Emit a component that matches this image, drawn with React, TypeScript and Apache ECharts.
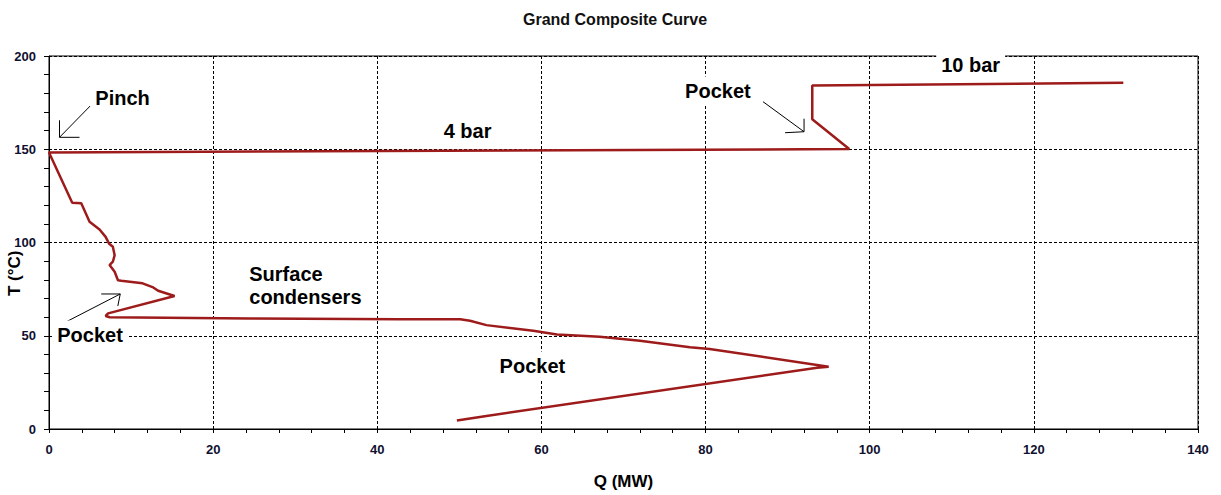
import React, { useEffect, useRef } from "react";
import * as echarts from "echarts";

// Grand composite curve: heat flow Q (MW) vs shifted temperature T (°C)
const qValues = [130.9, 93.0, 93.0, 97.5, 0.0, 2.83, 3.93, 4.94, 6.16, 6.9, 7.3, 7.78, 8.0, 7.78, 7.38, 8.0, 8.4, 8.8, 11.4, 12.7, 13.3, 15.3, 7.2, 6.9, 7.4, 24.5, 42.7, 50.1, 51.3, 53.3, 59.0, 61.9, 67.1, 72.0, 78.1, 80.5, 95.0, 93.6, 53.3, 49.7];
const tValues = [185.6, 184.2, 166.1, 150.1, 148.3, 121.3, 121.0, 111.1, 107.0, 103.0, 99.5, 97.7, 93.2, 89.7, 87.9, 84.3, 79.8, 79.5, 78.1, 75.9, 74.1, 71.3, 62.0, 60.6, 59.9, 59.2, 58.8, 58.8, 58.0, 55.7, 52.7, 50.7, 49.5, 47.3, 43.8, 42.9, 33.4, 32.9, 7.0, 4.5];

const xTicks = [0, 20, 40, 60, 80, 100, 120, 140];
const yTicks = [0, 50, 100, 150, 200];

const titleText = "Grand Composite Curve";
const xName = "Q (MW)";
const yName = "T (°C)";

// annotation texts with anchor positions in data space [Q, T]
const labelTexts = ["Pinch", "4 bar", "10 bar", "Pocket", "Pocket", "Pocket", "Surface\ncondensers"];
const labelAnchors: number[][] = [
  [8.96, 177.5],
  [51.0, 159.8],
  [112.3, 195.2],
  [81.5, 181.2],
  [5.0, 50.4],
  [58.9, 33.8],
  [24.4, 76.7],
];

// annotation arrows: from -> to in data space
const arrowFrom: number[][] = [
  [5.02, 173.2],
  [87.0, 175.5],
  [1.89, 57.0],
];
const arrowTo: number[][] = [
  [1.28, 156.4],
  [92.0, 159.4],
  [8.68, 72.4],
];

export default function App() {
  const ref = useRef<HTMLDivElement>(null);

  useEffect(() => {
    document.body.style.margin = "0";
    if (!ref.current) return;
    const chart = echarts.init(ref.current, undefined, { renderer: "svg" });
    const font = "'Liberation Sans', Arial, sans-serif";
    const tickColor = "#101030";

    const data = qValues.map((q, i) => [q, tValues[i]]);

    chart.setOption({
      animation: false,
      backgroundColor: "#ffffff",
      title: {
        text: titleText,
        left: 518,
        top: 6,
        textStyle: { fontFamily: font, fontSize: 16, fontWeight: "bold", color: "#111" },
      },
      grid: {
        left: 49,
        right: 23,
        top: 56,
        bottom: 66,
        show: true,
        borderColor: "#000",
        borderWidth: 1,
        backgroundColor: "transparent",
      },
      xAxis: {
        type: "value",
        min: xTicks[0],
        max: xTicks[xTicks.length - 1],
        interval: 20,
        name: xName,
        nameLocation: "middle",
        nameGap: 44,
        nameTextStyle: { fontFamily: font, fontSize: 17, fontWeight: "bold", color: "#000" },
        axisLine: { show: true, onZero: false, lineStyle: { color: "#000", width: 1 } },
        axisTick: { show: true, length: 4, lineStyle: { color: "#000" } },
        minorTick: { show: true, splitNumber: 5, length: 4, lineStyle: { color: "#000" } },
        axisLabel: { fontFamily: font, fontSize: 13, fontWeight: "bold", color: tickColor, margin: 14 },
        splitLine: { show: true, lineStyle: { color: "#000", type: [3, 2], width: 1 } },
      },
      yAxis: {
        type: "value",
        min: yTicks[0],
        max: yTicks[yTicks.length - 1],
        interval: 50,
        axisLine: { show: true, onZero: false, lineStyle: { color: "#000", width: 1 } },
        axisTick: { show: true, length: 5, lineStyle: { color: "#000" } },
        minorTick: { show: true, splitNumber: 5, length: 5, lineStyle: { color: "#000" } },
        axisLabel: { fontFamily: font, fontSize: 13, fontWeight: "bold", color: tickColor, margin: 13 },
        splitLine: { show: true, lineStyle: { color: "#000", type: [3, 2], width: 1 } },
      },
      series: [
        {
          type: "line",
          data,
          showSymbol: false,
          symbol: "none",
          lineStyle: { color: "#9e1b1b", width: 2.5 },
          z: 3,
        },
      ],
    });

    const px = (p: number[]) => chart.convertToPixel({ gridIndex: 0 }, p) as number[];

    const headArms: number[][][] = [
      [[0, -17], [20, 0]],
      [[0, -13], [-19, 1]],
      [[-19, 0], [-2.4, 12]],
    ];

    const graphics: any[] = [];

    labelTexts.forEach((txt, i) => {
      const [x, y] = px(labelAnchors[i]);
      const isMulti = txt.indexOf("\n") >= 0;
      graphics.push({
        type: "text",
        x,
        y,
        z: 10,
        style: {
          text: txt,
          fontFamily: font,
          fontSize: 20,
          fontWeight: "bold",
          fill: "#000",
          align: isMulti ? "left" : "center",
          verticalAlign: "middle",
          lineHeight: 23,
          backgroundColor: isMulti ? undefined : "#ffffff",
          padding: isMulti ? 0 : [3, 5],
        },
      });
    });

    arrowFrom.forEach((f, i) => {
      const a = px(f);
      const b = px(arrowTo[i]);
      graphics.push({
        type: "line",
        z: 9,
        shape: { x1: a[0], y1: a[1], x2: b[0], y2: b[1] },
        style: { stroke: "#000", lineWidth: 1 },
      });
      const arms = headArms[i];
      graphics.push({
        type: "polyline",
        z: 9,
        shape: {
          points: [
            [b[0] + arms[0][0], b[1] + arms[0][1]],
            [b[0], b[1]],
            [b[0] + arms[1][0], b[1] + arms[1][1]],
          ],
        },
        style: { stroke: "#000", lineWidth: 1, fill: "none" },
      });
    });

    // y axis name, placed off-centre as in the source chart
    const yNamePos = px([-4.2, 83.5]);
    graphics.push({
      type: "text",
      x: yNamePos[0],
      y: yNamePos[1],
      rotation: Math.PI / 2,
      z: 10,
      style: {
        text: yName,
        fontFamily: font,
        fontSize: 17,
        fontWeight: "bold",
        fill: "#000",
        align: "center",
        verticalAlign: "middle",
      },
    });

    chart.setOption({ graphic: graphics });

    return () => chart.dispose();
  }, []);

  return <div ref={ref} style={{ width: 1221, height: 495 }} />;
}
